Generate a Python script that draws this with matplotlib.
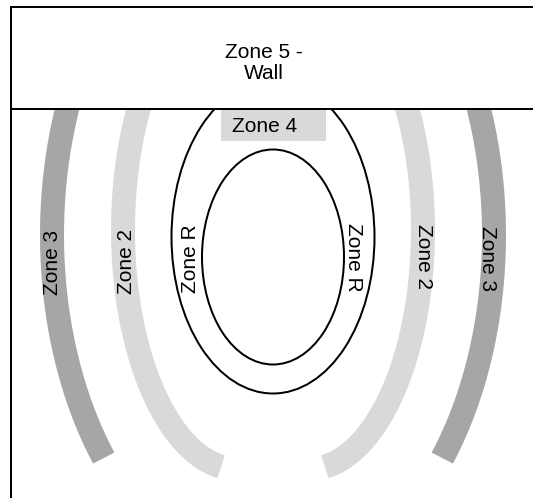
import matplotlib.pyplot as plt
from matplotlib.patches import Ellipse, Rectangle
import numpy as np

plt.rcParams['font.family'] = ['Liberation Sans', 'DejaVu Sans']

# geometry in pixels of the 533x498 picture (x right, y down)
cx = 273

# curved bands, left side given, right side mirrored around cx
band_labels = ["Zone 3", "Zone 2"]
band_colors = ["#a6a6a6", "#d9d9d9"]
band_shift = [0, 36]      # centre of each arc moved this far from cx
band_a = [221, 114]
band_b = [347, 239]
band_cy = [235, 230]
band_end = [140, 98]
band_label_left = [(53, 262), (127, 261)]
band_label_right = [(488, 259), (423, 256)]

# the two black rings
ring_centers = [(273, 237), (273, 257)]
ring_sizes = [(203, 313), (142, 215)]
ring_label = "Zone R"
ring_label_pos = [(190, 259), (353, 257)]

wall_text = "Zone 5 -\nWall"
zone4_text = "Zone 4"

fig = plt.figure(figsize=(5.33, 4.98), dpi=100)
ax = fig.add_axes([0, 0, 1, 1])
ax.set_xlim(0, 533)
ax.set_ylim(498, 0)
ax.axis('off')

px = 72 / 100  # points per pixel

for s, a, b, cy, end, col in zip(band_shift, band_a, band_b, band_cy,
                                 band_end, band_colors):
    t = np.radians(np.linspace(end, 215, 200))
    y = cy + b * np.sin(t)
    ax.plot(cx - s + a * np.cos(t), y, color=col, lw=24 * px,
            solid_capstyle='butt', zorder=1)
    ax.plot(cx + s - a * np.cos(t), y, color=col, lw=24 * px,
            solid_capstyle='butt', zorder=1)

for (x0, y0), (w, h) in zip(ring_centers, ring_sizes):
    ax.add_patch(Ellipse((x0, y0), w, h, fill=False, ec='black',
                         lw=2 * px, zorder=2))

# wall box on top hides the upper ends
ax.add_patch(Rectangle((11, 7), 540, 102, fc='white', ec='black',
                       lw=2 * px, zorder=3))
ax.plot([11, 11], [7, 510], color='black', lw=2 * px, zorder=4,
        solid_capstyle='butt')

ax.add_patch(Rectangle((221, 110), 105, 31, fc='#d9d9d9', ec='none',
                       zorder=4))

fs = 15
ax.text(264, 63, wall_text, ha='center', va='center', multialignment='center',
        fontsize=fs, linespacing=1.15, zorder=5)
ax.text(265, 126, zone4_text, ha='center', va='center', fontsize=fs, zorder=5)

for lab, (xl, yl), (xr, yr) in zip(band_labels, band_label_left,
                                   band_label_right):
    ax.text(xl, yl, lab, rotation=90, ha='center', va='center',
            fontsize=fs, zorder=5)
    ax.text(xr, yr, lab, rotation=270, ha='center', va='center',
            fontsize=fs, zorder=5)

ax.text(ring_label_pos[0][0], ring_label_pos[0][1], ring_label, rotation=90,
        ha='center', va='center', fontsize=fs, zorder=5)
ax.text(ring_label_pos[1][0], ring_label_pos[1][1], ring_label, rotation=270,
        ha='center', va='center', fontsize=fs, zorder=5)

fig.savefig('out.png', dpi=100)
